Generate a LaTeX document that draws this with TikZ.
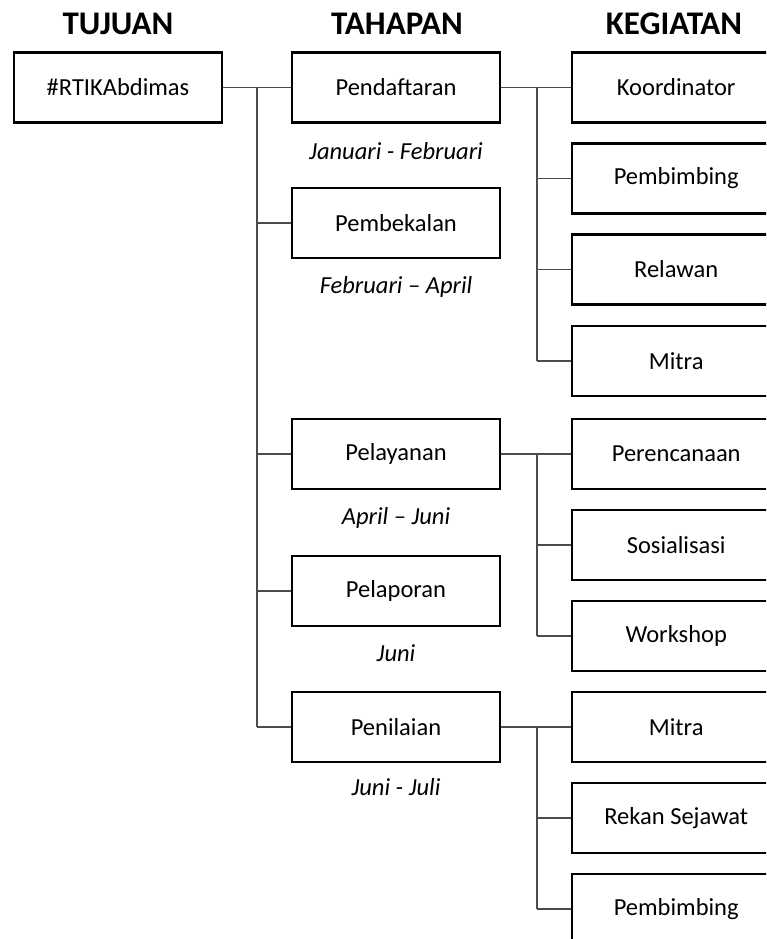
\documentclass[tikz,border=0pt]{standalone}
\usepackage{fontspec}
\setmainfont{Carlito}
\begin{document}
\begin{tikzpicture}[x=1pt,y=-1pt,
  box/.style={draw=black,line width=2.4pt,minimum width=208pt,minimum height=70pt,inner sep=0pt,font=\fontsize{24.5}{28}\selectfont},
  kbox/.style={box,anchor=west},
  hdr/.style={font=\fontsize{33}{36}\selectfont\bfseries},
  date/.style={font=\fontsize{24.5}{28}\selectfont\itshape},
  con/.style={draw=black!70,line width=1.3pt}]
\useasboundingbox (0,0) rectangle (766,939);
\clip (0,0) rectangle (766,939);
% headers
\node[hdr] (h1) at (118,24) {TUJUAN};
\node[hdr] (h2) at (397,24) {TAHAPAN};
\node[hdr] (h3) at (674,24) {KEGIATAN};
% tujuan
\node[box] (t) at (118,87.5) {\#RTIKAbdimas};
% tahapan
\node[box] (p1) at (396,87.5) {Pendaftaran};
\node[box] (p2) at (396,223) {Pembekalan};
\node[box] (p3) at (396,454) {Pelayanan};
\node[box] (p4) at (396,591) {Pelaporan};
\node[box] (p5) at (396,727) {Penilaian};
\node[date] (d1) at (396,151) {Januari - Februari};
\node[date] (d2) at (396,287) {Februari – April};
\node[date] (d3) at (396,518) {April – Juni};
\node[date] (d4) at (396,653) {Juni};
\node[date] (d5) at (396,787) {Juni - Juli};
% kegiatan
\node[kbox] (k1) at (571,87.5) {Koordinator};
\node[kbox] (k2) at (571,178.5) {Pembimbing};
\node[kbox] (k3) at (571,269.5) {Relawan};
\node[kbox] (k4) at (571,361) {Mitra};
\node[kbox] (k5) at (571,454) {Perencanaan};
\node[kbox] (k6) at (571,545) {Sosialisasi};
\node[kbox] (k7) at (571,636) {Workshop};
\node[kbox] (k8) at (571,727) {Mitra};
\node[kbox] (k9) at (571,818) {Rekan Sejawat};
\node[kbox] (k10) at (571,909) {Pembimbing};
% trunk coordinates
\coordinate (ta) at (257,87.5);
\coordinate (tb) at (257,727);
\coordinate (ra1) at (537,87.5);
\coordinate (rb1) at (537,361);
\coordinate (ra2) at (537,454);
\coordinate (rb2) at (537,636);
\coordinate (ra3) at (537,727);
\coordinate (rb3) at (537,909);
% connectors left
\draw[con] (t.east) -- (p1.west);
\draw[con] (ta) -- (tb);
\foreach \n in {p2,p3,p4,p5} \draw[con] (ta |- \n.west) -- (\n.west);
% connectors right
\draw[con] (p1.east) -- (k1.west);
\draw[con] (ra1) -- (rb1);
\foreach \n in {k2,k3,k4} \draw[con] (ra1 |- \n.west) -- (\n.west);
\draw[con] (p3.east) -- (k5.west);
\draw[con] (ra2) -- (rb2);
\foreach \n in {k6,k7} \draw[con] (ra2 |- \n.west) -- (\n.west);
\draw[con] (p5.east) -- (k8.west);
\draw[con] (ra3) -- (rb3);
\foreach \n in {k9,k10} \draw[con] (ra3 |- \n.west) -- (\n.west);
\end{tikzpicture}
\end{document}
